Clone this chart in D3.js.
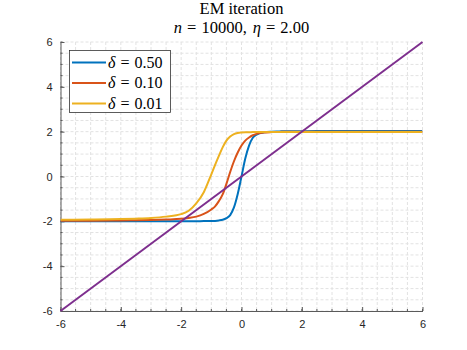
<!DOCTYPE html>
<html>
<head>
<meta charset="utf-8">
<script src="https://cdn.jsdelivr.net/npm/d3@7"></script>
<style>
  body { margin: 0; background: #fff; }
  svg { display: block; }
</style>
</head>
<body>
<div id="chart"></div>
<script>
// values
var xs = [-6, -5, -4, -3.5, -3, -2.5, -2, -1.75, -1.5, -1.25, -1, -0.875, -0.75, -0.625, -0.5,
          -0.375, -0.25, -0.125, 0, 0.125, 0.25, 0.375, 0.5, 0.75, 1, 1.25, 1.5, 2, 3, 4, 5, 6];
var delta050 = [-2.0, -2.0, -2.0, -2.0, -2.0, -2.0, -2.0, -2.0, -2.0, -1.99, -1.99, -1.98, -1.96, -1.93, -1.86,
          -1.72, -1.38, -0.78, 0.0, 0.8, 1.38, 1.73, 1.87, 1.97, 2.0, 2.01, 2.02, 2.02, 2.03, 2.03, 2.03, 2.03];
var delta010 = [-1.97, -1.97, -1.96, -1.95, -1.94, -1.92, -1.89, -1.85, -1.79, -1.67, -1.47, -1.33, -1.1, -0.8, -0.33,
          0.2, 0.68, 1.07, 1.38, 1.6, 1.74, 1.84, 1.9, 1.96, 1.98, 1.99, 2.0, 2.0, 2.0, 2.0, 2.0, 2.0];
var delta001 = [-1.93, -1.92, -1.9, -1.88, -1.85, -1.79, -1.68, -1.53, -1.2, -0.7, 0.1, 0.52, 0.92, 1.3, 1.6,
          1.78, 1.89, 1.94, 1.96, 1.97, 1.97, 1.98, 1.98, 1.98, 1.98, 1.98, 1.98, 1.98, 1.98, 1.98, 1.98, 1.98];
var identX = [-6, 6];
var identY = [-6, 6];

var seriesNames = ['0.50', '0.10', '0.01'];
var seriesValues = [delta050, delta010, delta001];
var seriesColors = ['#0072BD', '#D95319', '#EDB120'];
var identColor = '#7E2F8E';

var majorTicks = [-6, -4, -2, 0, 2, 4, 6];
var minorTicks = d3.range(-6, 6.001, 0.5);

var width = 467, height = 350;
var plot = {left: 60.5, right: 422.5, top: 42, bottom: 311};

var svg = d3.select('#chart').append('svg')
    .attr('width', width)
    .attr('height', height);

var x = d3.scaleLinear().domain([-6, 6]).range([plot.left, plot.right]);
var y = d3.scaleLinear().domain([-6, 6]).range([plot.bottom, plot.top]);

// grid
var grid = svg.append('g');
grid.selectAll('line.vminor').data(minorTicks).enter().append('line')
    .attr('x1', function(d) { return x(d); }).attr('x2', function(d) { return x(d); })
    .attr('y1', plot.top).attr('y2', plot.bottom)
    .attr('stroke', '#e2e2e2').attr('stroke-width', 1).attr('stroke-dasharray', '3,2');
grid.selectAll('line.hminor').data(minorTicks).enter().append('line')
    .attr('y1', function(d) { return y(d); }).attr('y2', function(d) { return y(d); })
    .attr('x1', plot.left).attr('x2', plot.right)
    .attr('stroke', '#e2e2e2').attr('stroke-width', 1).attr('stroke-dasharray', '3,2');

// axes
var xAxis = d3.axisBottom(x).tickValues(majorTicks).tickSizeInner(-4).tickSizeOuter(0).tickPadding(9)
    .tickFormat(function(d) { return String(d); });
var yAxis = d3.axisLeft(y).tickValues(majorTicks).tickSizeInner(-4).tickSizeOuter(0).tickPadding(8)
    .tickFormat(function(d) { return String(d); });

var gx = svg.append('g').attr('transform', 'translate(0,' + plot.bottom + ')').call(xAxis);
var gy = svg.append('g').attr('transform', 'translate(' + plot.left + ',0)').call(yAxis);

[gx, gy].forEach(function(g) {
    g.select('.domain').attr('stroke', '#5a5a5a').attr('stroke-width', 1);
    g.selectAll('.tick line').attr('stroke', '#5a5a5a');
    g.selectAll('.tick text')
        .attr('fill', '#262626')
        .style('font-family', '"Liberation Sans", Arial, sans-serif')
        .style('font-size', '11px');
});

// minor ticks
gx.selectAll('line.minor').data(minorTicks).enter().append('line')
    .attr('x1', function(d) { return x(d); }).attr('x2', function(d) { return x(d); })
    .attr('y1', 0).attr('y2', -2).attr('stroke', '#5a5a5a');
gy.selectAll('line.minor').data(minorTicks).enter().append('line')
    .attr('y1', function(d) { return y(d); }).attr('y2', function(d) { return y(d); })
    .attr('x1', 0).attr('x2', 2).attr('stroke', '#5a5a5a');

// curves
var line = d3.line()
    .x(function(d) { return x(d[0]); })
    .y(function(d) { return y(d[1]); })
    .curve(d3.curveMonotoneX);

svg.append('clipPath').attr('id', 'plotclip').append('rect')
    .attr('x', plot.left).attr('y', plot.top)
    .attr('width', plot.right - plot.left).attr('height', plot.bottom - plot.top);

for (var i = 0; i < seriesValues.length; i++) {
    var pts = xs.map(function(v, j) { return [v, seriesValues[i][j]]; });
    svg.append('path').datum(pts)
        .attr('d', line)
        .attr('fill', 'none')
        .attr('stroke', seriesColors[i])
        .attr('stroke-width', 2)
        .attr('clip-path', 'url(#plotclip)');
}

svg.append('path').datum(identX.map(function(v, j) { return [v, identY[j]]; }))
    .attr('d', d3.line().x(function(d) { return x(d[0]); }).y(function(d) { return y(d[1]); }))
    .attr('fill', 'none')
    .attr('stroke', identColor)
    .attr('stroke-width', 2);

// title
var serif = '"Liberation Serif", "Times New Roman", serif';
svg.append('text')
    .attr('x', (plot.left + plot.right) / 2).attr('y', 14)
    .attr('text-anchor', 'middle')
    .style('font-family', serif).style('font-size', '16.5px').attr('fill', '#000')
    .text('EM iteration');

var sub = svg.append('text')
    .attr('x', (plot.left + plot.right) / 2).attr('y', 33)
    .attr('text-anchor', 'middle')
    .style('font-family', serif).style('font-size', '16.5px').attr('fill', '#000');
sub.append('tspan').style('font-style', 'italic').text('n');
sub.append('tspan').attr('dx', 5).text('=');
sub.append('tspan').attr('dx', 5).text('10000,');
sub.append('tspan').attr('dx', 6).style('font-style', 'italic').text('η');
sub.append('tspan').attr('dx', 5).text('=');
sub.append('tspan').attr('dx', 5).text('2.00');

// legend
var legend = svg.append('g');
legend.append('rect')
    .attr('x', 69.5).attr('y', 50.5).attr('width', 101).attr('height', 62)
    .attr('fill', '#fff').attr('stroke', '#262626').attr('stroke-width', 0.75);

seriesNames.forEach(function(name, i) {
    var ly = 62.5 + i * 20.5;
    legend.append('line')
        .attr('x1', 72).attr('x2', 106).attr('y1', ly).attr('y2', ly)
        .attr('stroke', seriesColors[i]).attr('stroke-width', 2);
    var t = legend.append('text')
        .attr('x', 108).attr('y', ly + 5)
        .style('font-family', serif).style('font-size', '16px').attr('fill', '#000');
    t.append('tspan').style('font-style', 'italic').text('δ');
    t.append('tspan').attr('dx', 5).text('=');
    t.append('tspan').attr('dx', 5).text(name);
});
</script>
</body>
</html>
